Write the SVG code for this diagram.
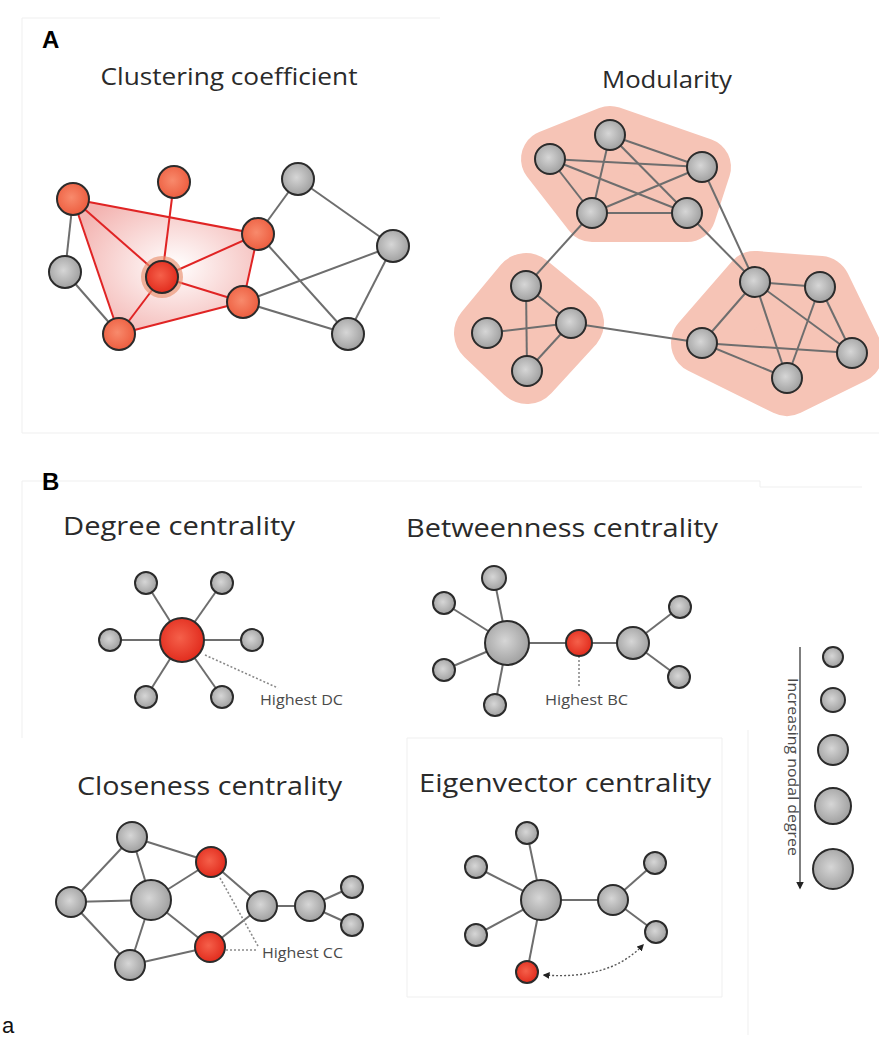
<svg xmlns="http://www.w3.org/2000/svg" width="879" height="1039" viewBox="0 0 879 1039">
<defs>
<radialGradient id="gGray" cx="0.45" cy="0.45" r="0.6">
<stop offset="0" stop-color="#d6d6d6"/><stop offset="1" stop-color="#9c9c9c"/>
</radialGradient>
<radialGradient id="gOrange" cx="0.45" cy="0.45" r="0.6">
<stop offset="0" stop-color="#f88a6c"/><stop offset="1" stop-color="#ec5a3c"/>
</radialGradient>
<radialGradient id="gRed" cx="0.45" cy="0.45" r="0.6">
<stop offset="0" stop-color="#f5604a"/><stop offset="1" stop-color="#e0281a"/>
</radialGradient>
<radialGradient id="gShade" cx="0.55" cy="0.5" r="0.6">
<stop offset="0" stop-color="#ffffff"/><stop offset="1" stop-color="#f3b3b0"/>
</radialGradient>
<marker id="ah" viewBox="0 0 10 10" refX="8" refY="5" markerWidth="5" markerHeight="5" orient="auto-start-reverse">
<path d="M0,0 L10,5 L0,10 z" fill="#222"/>
</marker>
</defs>
<style>
.t{font-family:"Open Sans","Noto Sans","Liberation Sans",sans-serif;fill:#2a2a2a}
.lab{font-family:"Open Sans","Noto Sans","Liberation Sans",sans-serif;fill:#4a4a4a;font-size:14px}
.hd{font-family:"Liberation Sans","Open Sans",sans-serif;font-weight:bold;font-size:24px;fill:#000}
.g{fill:url(#gGray);stroke:#2b2b2b;stroke-width:2}
.o{fill:url(#gOrange);stroke:#2b2b2b;stroke-width:2}
.r{fill:url(#gRed);stroke:#2b2b2b;stroke-width:2}
.e{stroke:#6e6e6e;stroke-width:2;fill:none}
.re{stroke:#e02424;stroke-width:2;fill:none}
.dot{stroke:#8a8a8a;stroke-width:1.6;stroke-dasharray:2 2;fill:none}
.frame{stroke:#efefef;stroke-width:1;fill:none}
.blob{fill:#f6c4b6;stroke:#f6c4b6;stroke-linejoin:round}
</style>

<g id="frames">
<path class="frame" d="M22 18 H440 M22 18 V433 H879"/>
<path class="frame" d="M22 481 H760 V487 H862 M22 481 V738"/>
<path class="frame" d="M407 738 H722 V997 H407 Z M748 730 V1035"/>
</g>

<text class="hd" x="42" y="48">A</text>
<text class="hd" x="42" y="490">B</text>
<text x="2" y="1033" font-family="Liberation Sans, sans-serif" font-size="22" fill="#111">a</text>

<!-- Panel A left -->
<g id="clustering">
<text class="t" x="229" y="85" font-size="24" text-anchor="middle" textLength="257" lengthAdjust="spacingAndGlyphs">Clustering coefficient</text>
<polygon points="73,199 258,234 243,302 119,334" fill="url(#gShade)"/>
<g id="cc-edges">
<line class="e" x1="73" y1="199" x2="65" y2="272"/>
<line class="e" x1="65" y1="272" x2="119" y2="334"/>
<line class="e" x1="258" y1="234" x2="298" y2="179"/>
<line class="e" x1="298" y1="179" x2="393" y2="246"/>
<line class="e" x1="258" y1="234" x2="348" y2="334"/>
<line class="e" x1="243" y1="302" x2="393" y2="246"/>
<line class="e" x1="243" y1="302" x2="348" y2="334"/>
<line class="e" x1="393" y1="246" x2="348" y2="334"/>
<line class="re" x1="73" y1="199" x2="258" y2="234"/>
<line class="re" x1="73" y1="199" x2="162" y2="277"/>
<line class="re" x1="73" y1="199" x2="119" y2="334"/>
<line class="re" x1="174" y1="182" x2="162" y2="277"/>
<line class="re" x1="162" y1="277" x2="258" y2="234"/>
<line class="re" x1="162" y1="277" x2="243" y2="302"/>
<line class="re" x1="162" y1="277" x2="119" y2="334"/>
<line class="re" x1="258" y1="234" x2="243" y2="302"/>
<line class="re" x1="243" y1="302" x2="119" y2="334"/>
</g>
<circle cx="162" cy="277" r="21" fill="#e9906f" opacity="0.65"/>
<circle class="o" cx="73" cy="199" r="16"/>
<circle class="o" cx="174" cy="182" r="16"/>
<circle class="g" cx="298" cy="179" r="16"/>
<circle class="o" cx="258" cy="234" r="16"/>
<circle class="g" cx="393" cy="246" r="16"/>
<circle class="g" cx="65" cy="272" r="16"/>
<circle class="r" cx="162" cy="277" r="16"/>
<circle class="o" cx="243" cy="302" r="16"/>
<circle class="o" cx="119" cy="334" r="16"/>
<circle class="g" cx="348" cy="334" r="16"/>
</g>

<!-- Panel A right -->
<g id="modularity">
<text class="t" x="667" y="88" font-size="24" text-anchor="middle" textLength="130" lengthAdjust="spacingAndGlyphs">Modularity</text>
<polygon class="blob" stroke-width="58" points="610,135 702,167 687,213 592,213 550,159"/>
<polygon class="blob" stroke-width="66" points="526,286 571,323 527,371 487,333"/>
<polygon class="blob" stroke-width="62" points="755,282 820,287 852,353 787,385 702,343"/>
<g id="mod-edges">
<line class="e" x1="610" y1="135" x2="592" y2="213"/>
<line class="e" x1="610" y1="135" x2="702" y2="167"/>
<line class="e" x1="610" y1="135" x2="687" y2="213"/>
<line class="e" x1="550" y1="159" x2="702" y2="167"/>
<line class="e" x1="550" y1="159" x2="687" y2="213"/>
<line class="e" x1="550" y1="159" x2="592" y2="213"/>
<line class="e" x1="592" y1="213" x2="702" y2="167"/>
<line class="e" x1="592" y1="213" x2="687" y2="213"/>
<line class="e" x1="702" y1="167" x2="755" y2="282"/>
<line class="e" x1="687" y1="213" x2="755" y2="282"/>
<line class="e" x1="592" y1="213" x2="526" y2="286"/>
<line class="e" x1="526" y1="286" x2="527" y2="371"/>
<line class="e" x1="526" y1="286" x2="571" y2="323"/>
<line class="e" x1="487" y1="333" x2="571" y2="323"/>
<line class="e" x1="571" y1="323" x2="527" y2="371"/>
<line class="e" x1="571" y1="323" x2="702" y2="343"/>
<line class="e" x1="755" y1="282" x2="820" y2="287"/>
<line class="e" x1="755" y1="282" x2="702" y2="343"/>
<line class="e" x1="755" y1="282" x2="787" y2="378"/>
<line class="e" x1="755" y1="282" x2="852" y2="353"/>
<line class="e" x1="820" y1="287" x2="852" y2="353"/>
<line class="e" x1="820" y1="287" x2="787" y2="378"/>
<line class="e" x1="702" y1="343" x2="852" y2="353"/>
<line class="e" x1="702" y1="343" x2="787" y2="378"/>
</g>
<circle class="g" cx="610" cy="135" r="15"/>
<circle class="g" cx="550" cy="159" r="15"/>
<circle class="g" cx="702" cy="167" r="15"/>
<circle class="g" cx="592" cy="213" r="15"/>
<circle class="g" cx="687" cy="213" r="15"/>
<circle class="g" cx="526" cy="286" r="15"/>
<circle class="g" cx="487" cy="333" r="15"/>
<circle class="g" cx="571" cy="323" r="15"/>
<circle class="g" cx="527" cy="371" r="15"/>
<circle class="g" cx="755" cy="282" r="15"/>
<circle class="g" cx="820" cy="287" r="15"/>
<circle class="g" cx="702" cy="343" r="15"/>
<circle class="g" cx="852" cy="353" r="15"/>
<circle class="g" cx="787" cy="378" r="15"/>
</g>

<!-- Degree centrality -->
<g id="degree">
<text class="t" x="63" y="535" font-size="25" textLength="232" lengthAdjust="spacingAndGlyphs">Degree centrality</text>
<g id="dc-edges">
<line class="e" x1="182" y1="640" x2="146" y2="583"/>
<line class="e" x1="182" y1="640" x2="222" y2="583"/>
<line class="e" x1="182" y1="640" x2="110" y2="640"/>
<line class="e" x1="182" y1="640" x2="252" y2="640"/>
<line class="e" x1="182" y1="640" x2="146" y2="697"/>
<line class="e" x1="182" y1="640" x2="222" y2="697"/>
<line class="dot" x1="205" y1="655" x2="278" y2="688"/>
</g>
<circle class="g" cx="146" cy="583" r="11"/>
<circle class="g" cx="222" cy="583" r="11"/>
<circle class="g" cx="110" cy="640" r="11"/>
<circle class="g" cx="252" cy="640" r="11"/>
<circle class="g" cx="146" cy="697" r="11"/>
<circle class="g" cx="222" cy="697" r="11"/>
<circle class="r" cx="182" cy="640" r="22"/>
<text class="lab" x="260" y="705" textLength="83" lengthAdjust="spacingAndGlyphs">Highest DC</text>
</g>

<!-- Betweenness centrality -->
<g id="betweenness">
<text class="t" x="406" y="537" font-size="25" textLength="312" lengthAdjust="spacingAndGlyphs">Betweenness centrality</text>
<g id="bc-edges">
<line class="e" x1="507" y1="643" x2="494" y2="578"/>
<line class="e" x1="507" y1="643" x2="444" y2="603"/>
<line class="e" x1="507" y1="643" x2="444" y2="670"/>
<line class="e" x1="507" y1="643" x2="495" y2="705"/>
<line class="e" x1="507" y1="643" x2="633" y2="643"/>
<line class="e" x1="633" y1="643" x2="680" y2="607"/>
<line class="e" x1="633" y1="643" x2="679" y2="677"/>
<line class="dot" x1="579" y1="656" x2="579" y2="688"/>
</g>
<circle class="g" cx="494" cy="578" r="12"/>
<circle class="g" cx="444" cy="603" r="11"/>
<circle class="g" cx="444" cy="670" r="11"/>
<circle class="g" cx="495" cy="705" r="11"/>
<circle class="g" cx="680" cy="607" r="11"/>
<circle class="g" cx="679" cy="677" r="11"/>
<circle class="g" cx="507" cy="643" r="22"/>
<circle class="g" cx="633" cy="643" r="16"/>
<circle class="r" cx="579" cy="643" r="13"/>
<text class="lab" x="545" y="705" textLength="83" lengthAdjust="spacingAndGlyphs">Highest BC</text>
</g>

<!-- Legend -->
<g id="legend">
<line x1="800" y1="647" x2="800" y2="888" stroke="#555" stroke-width="1.5" marker-end="url(#ah)"/>
<text class="lab" x="0" y="0" font-size="13" transform="translate(788 767) rotate(90)" text-anchor="middle" textLength="178" lengthAdjust="spacingAndGlyphs">Increasing nodal degree</text>
<circle class="g" cx="833" cy="657" r="10"/>
<circle class="g" cx="833" cy="700" r="12"/>
<circle class="g" cx="833" cy="750" r="15"/>
<circle class="g" cx="833" cy="806" r="18"/>
<circle class="g" cx="833" cy="869" r="20"/>
</g>

<!-- Closeness centrality -->
<g id="closeness">
<text class="t" x="77" y="795" font-size="25" textLength="265" lengthAdjust="spacingAndGlyphs">Closeness centrality</text>
<g id="clc-edges">
<line class="e" x1="132" y1="837" x2="71" y2="902"/>
<line class="e" x1="132" y1="837" x2="151" y2="900"/>
<line class="e" x1="132" y1="837" x2="211" y2="862"/>
<line class="e" x1="71" y1="902" x2="151" y2="900"/>
<line class="e" x1="71" y1="902" x2="130" y2="965"/>
<line class="e" x1="151" y1="900" x2="130" y2="965"/>
<line class="e" x1="151" y1="900" x2="211" y2="862"/>
<line class="e" x1="151" y1="900" x2="210" y2="947"/>
<line class="e" x1="130" y1="965" x2="210" y2="947"/>
<line class="e" x1="211" y1="862" x2="262" y2="906"/>
<line class="e" x1="210" y1="947" x2="262" y2="906"/>
<line class="e" x1="262" y1="906" x2="310" y2="906"/>
<line class="e" x1="310" y1="906" x2="352" y2="887"/>
<line class="e" x1="310" y1="906" x2="352" y2="925"/>
<line class="dot" x1="220" y1="878" x2="258" y2="946"/>
<line class="dot" x1="226" y1="950" x2="257" y2="950"/>
</g>
<circle class="g" cx="132" cy="837" r="15"/>
<circle class="g" cx="71" cy="902" r="15"/>
<circle class="g" cx="151" cy="900" r="20"/>
<circle class="g" cx="130" cy="965" r="15"/>
<circle class="r" cx="211" cy="862" r="15"/>
<circle class="r" cx="210" cy="947" r="15"/>
<circle class="g" cx="262" cy="906" r="15"/>
<circle class="g" cx="310" cy="906" r="15"/>
<circle class="g" cx="352" cy="887" r="11"/>
<circle class="g" cx="352" cy="925" r="11"/>
<text class="lab" x="262" y="958" textLength="81" lengthAdjust="spacingAndGlyphs">Highest CC</text>
</g>

<!-- Eigenvector centrality -->
<g id="eigenvector">
<text class="t" x="419" y="792" font-size="25" textLength="292" lengthAdjust="spacingAndGlyphs">Eigenvector centrality</text>
<g id="ec-edges">
<line class="e" x1="541" y1="900" x2="527" y2="833"/>
<line class="e" x1="541" y1="900" x2="476" y2="867"/>
<line class="e" x1="541" y1="900" x2="476" y2="935"/>
<line class="e" x1="541" y1="900" x2="527" y2="972"/>
<line class="e" x1="541" y1="900" x2="613" y2="900"/>
<line class="e" x1="613" y1="900" x2="655" y2="863"/>
<line class="e" x1="613" y1="900" x2="656" y2="932"/>
<path d="M544 975 Q610 980 643 945" stroke="#555" stroke-width="1.4" stroke-dasharray="2 2" fill="none" marker-start="url(#ah)" marker-end="url(#ah)"/>
</g>
<circle class="g" cx="527" cy="833" r="11"/>
<circle class="g" cx="476" cy="867" r="11"/>
<circle class="g" cx="476" cy="935" r="11"/>
<circle class="g" cx="655" cy="863" r="11"/>
<circle class="g" cx="656" cy="932" r="11"/>
<circle class="g" cx="541" cy="900" r="20"/>
<circle class="g" cx="613" cy="900" r="15"/>
<circle class="r" cx="527" cy="972" r="11"/>
</g>
</svg>
